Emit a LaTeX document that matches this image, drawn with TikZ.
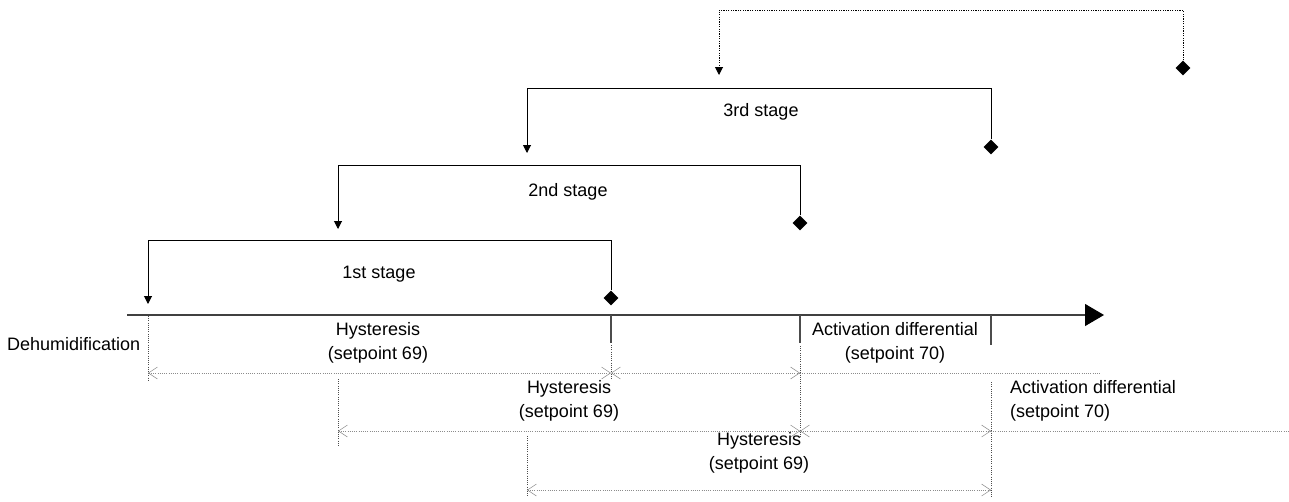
\documentclass[tikz,border=0pt]{standalone}
\usepackage{fontspec}
\setmainfont{Liberation Sans}
\usetikzlibrary{arrows.meta,shapes.geometric}

\tikzset{
  etapa/.style={line width=1pt, black, -{Triangle[length=8pt,width=8pt]}},
  rombo/.style={diamond, fill=black, inner sep=0pt, minimum size=15pt},
  eje/.style={line width=1.1pt, black!75, -{Triangle[length=19pt,width=22pt,color=black]}},
  marca/.style={line width=1.1pt, black!70},
  guia/.style={line width=1pt, black!70, dash pattern=on 1pt off 1.2pt},
  cota/.style={line width=0.9pt, black!45, dash pattern=on 1pt off 1.2pt},
  cotas/.style={cota, {Straight Barb[length=9pt,width=12pt,line width=0.5pt]}-{Straight Barb[length=9pt,width=12pt,line width=0.5pt]}},
  texto/.style={font=\fontsize{18}{24}\selectfont, align=center, inner sep=0pt}
}

\begin{document}
\begin{tikzpicture}[x=1pt,y=-1pt]
  \useasboundingbox (0,0) rectangle (1289,501);

  % Eje
  \coordinate (o) at (127,315);
  \coordinate (p) at (1104,315);
  \draw[eje] (o) -- (p);
  \node[texto, anchor=west] (dh) at (7,344) {Dehumidification};

  % Rombos de cada etapa
  \node[rombo] (r1) at (611,298) {};
  \node[rombo] (r2) at (800,223) {};
  \node[rombo] (r3) at (991,147) {};
  \node[rombo] (r4) at (1183,68) {};

  % Esquinas y puntas de flecha
  \coordinate (c1) at (148,240); \coordinate (f1) at (148,304);
  \coordinate (c2) at (338,165); \coordinate (f2) at (338,229);
  \coordinate (c3) at (527,88);  \coordinate (f3) at (527,153);
  \coordinate (c4) at (719,10);  \coordinate (f4) at (719,75);

  % Etapas
  \draw[etapa] (r1.north) |- (c1) -- (f1);
  \draw[etapa] (r2.north) |- (c2) -- (f2);
  \draw[etapa] (r3.north) |- (c3) -- (f3);
  \draw[etapa, dash pattern=on 1.2pt off 1.2pt] (r4.north) |- (c4) -- (f4);
  \node[texto] (e1) at (379,274) {1st stage};
  \node[texto] (e2) at (568,192) {2nd stage};
  \node[texto] (e3) at (761,112) {3rd stage};

  % Marcas sobre el eje
  \draw[marca] (611,315) -- (611,343);
  \draw[marca] (800,315) -- (800,343);
  \draw[marca] (991,315) -- (991,345);

  % Lineas guia
  \draw[guia] (148,316) -- (148,382);
  \draw[guia] (611,345) -- (611,380);
  \draw[guia] (800,346) -- (800,438);
  \draw[guia] (338,379) -- (338,446);
  \draw[guia] (991,382) -- (991,497);
  \draw[guia] (527,436) -- (527,497);

  % Cotas, fila 1
  \coordinate (q1a) at (148,373);
  \coordinate (q1b) at (611,373);
  \coordinate (q1c) at (800,373);
  \coordinate (q1d) at (1100,373);
  \draw[cotas] (q1a) -- (q1b);
  \draw[cotas] (q1b) -- (q1c);
  \draw[cota] (q1c) -- (q1d);

  % Cotas, fila 2
  \coordinate (q2a) at (338,431);
  \coordinate (q2b) at (800,431);
  \coordinate (q2c) at (991,431);
  \coordinate (q2d) at (1289,431);
  \draw[cotas] (q2a) -- (q2b);
  \draw[cotas] (q2b) -- (q2c);
  \draw[cota] (q2c) -- (q2d);

  % Cotas, fila 3
  \coordinate (q3a) at (527,490);
  \coordinate (q3b) at (991,490);
  \draw[cotas] (q3a) -- (q3b);

  % Textos de las cotas
  \node[texto] (h1) at (378,343) {Hysteresis\\(setpoint 69)};
  \node[texto] (ad1) at (895,343) {Activation differential\\(setpoint 70)};
  \node[texto] (h2) at (569,401) {Hysteresis\\(setpoint 69)};
  \node[texto, anchor=west, align=left] (ad2) at (1010,401) {Activation differential\\(setpoint 70)};
  \node[texto] (h3) at (759,453) {Hysteresis\\(setpoint 69)};

\end{tikzpicture}
\end{document}
